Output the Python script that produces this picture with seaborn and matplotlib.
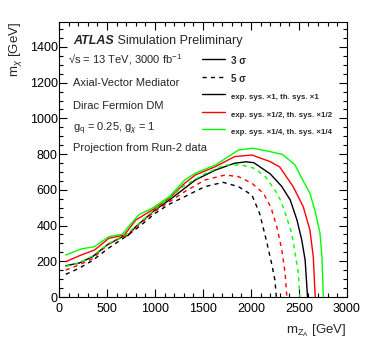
"""
Projected DM sensitivity contours (m_chi vs m_ZA), ATLAS-style.
"""
import numpy as np
import pandas as pd
import matplotlib
matplotlib.use('Agg')
import matplotlib.pyplot as plt
from matplotlib.lines import Line2D
from matplotlib.ticker import MultipleLocator
import seaborn as sns

# 3 sigma, exp. sys. x1, th. sys. x1
x_3s_1 = [70, 210, 350, 500, 660, 720, 800, 1000, 1150, 1310, 1420, 1630, 1830, 1950, 2030,
          2200, 2320, 2410, 2480, 2530, 2565, 2590]
y_3s_1 = [175, 190, 226, 291, 338, 345, 394, 487, 543, 609, 655, 711, 749, 757, 752,
          690, 620, 543, 431, 319, 207, 0]
# 5 sigma, x1
x_5s_1 = [70, 210, 350, 520, 700, 850, 1000, 1150, 1310, 1520, 1710, 1870, 2010, 2090, 2160,
          2215, 2250, 2265]
y_5s_1 = [127, 161, 205, 275, 340, 400, 468, 520, 562, 618, 642, 618, 571, 469, 319,
          189, 95, 0]
# 3 sigma, x1/2
x_3s_2 = [70, 230, 370, 520, 680, 800, 1000, 1150, 1310, 1420, 1630, 1830, 2010, 2200, 2300,
          2440, 2545, 2615, 2650, 2670]
y_3s_2 = [198, 235, 263, 329, 347, 431, 497, 553, 637, 683, 730, 786, 795, 758, 728,
          618, 506, 375, 226, 0]
# 5 sigma, x1/2
x_5s_2 = [70, 210, 350, 520, 700, 1000, 1310, 1520, 1730, 1870, 2010, 2130, 2210, 2270, 2320,
          2355, 2375]
y_5s_2 = [151, 180, 215, 300, 345, 480, 590, 655, 683, 674, 637, 581, 500, 394, 270,
          140, 0]
# 3 sigma, x1/4
x_3s_4 = [70, 230, 370, 520, 660, 710, 830, 970, 1150, 1310, 1420, 1630, 1870, 2020, 2200,
          2330, 2460, 2530, 2615, 2670, 2720, 2740, 2755]
y_3s_4 = [235, 269, 282, 338, 351, 385, 460, 497, 562, 655, 693, 739, 823, 833, 814,
          798, 739, 665, 581, 478, 357, 226, 0]
# 5 sigma, x1/4
x_5s_4 = [70, 210, 350, 520, 700, 1000, 1310, 1520, 1730, 1900, 2040, 2150, 2250, 2310, 2370,
          2425, 2460, 2495, 2510]
y_5s_4 = [172, 190, 230, 300, 350, 490, 625, 690, 739, 739, 720, 674, 599, 540, 450,
          357, 245, 133, 0]

scenario_labels = ['exp. sys. \u00d71, th. sys. \u00d71',
                   'exp. sys. \u00d71/2, th. sys. \u00d71/2',
                   'exp. sys. \u00d71/4, th. sys. \u00d71/4']
scenario_colors = ['#000000', '#ff0000', '#00ff00']


def build_frame():
    curves = [
        (x_3s_1, y_3s_1, scenario_labels[0], '3s'),
        (x_5s_1, y_5s_1, scenario_labels[0], '5s'),
        (x_3s_2, y_3s_2, scenario_labels[1], '3s'),
        (x_5s_2, y_5s_2, scenario_labels[1], '5s'),
        (x_3s_4, y_3s_4, scenario_labels[2], '3s'),
        (x_5s_4, y_5s_4, scenario_labels[2], '5s'),
    ]
    rows = []
    for xs, ys, scen, sig in curves:
        for i, (x, y) in enumerate(zip(xs, ys)):
            rows.append({'mZA': x, 'mchi': y, 'scenario': scen, 'signif': sig, 'order': i})
    return pd.DataFrame(rows)


sns.set_style("ticks")
plt.rcParams['font.family'] = ['Liberation Sans', 'DejaVu Sans']
plt.rcParams['mathtext.fontset'] = 'custom'
plt.rcParams['mathtext.rm'] = 'Liberation Sans'
plt.rcParams['mathtext.it'] = 'Liberation Sans:italic'
plt.rcParams['mathtext.bf'] = 'Liberation Sans:bold'

df = build_frame()

fig = plt.figure(figsize=(3.69, 3.54), dpi=100)
ax = fig.add_axes([0.160, 0.161, 0.780, 0.777])

for (scen, sig), sub in df.groupby(['scenario', 'signif'], sort=False):
    color = scenario_colors[scenario_labels.index(scen)]
    sns.lineplot(data=sub, x='mZA', y='mchi', sort=False, estimator=None, ax=ax,
                 color=color, linewidth=1.0,
                 linestyle='-' if sig == '3s' else (0, (3, 3)), legend=False)

ax.set_xlim(0, 3000)
ax.set_ylim(0, 1540)
ax.xaxis.set_major_locator(MultipleLocator(500))
ax.xaxis.set_minor_locator(MultipleLocator(100))
ax.yaxis.set_major_locator(MultipleLocator(200))
ax.yaxis.set_minor_locator(MultipleLocator(50))
ax.tick_params(which='both', direction='in', top=True, right=True, width=0.8,
               labelsize=9, colors='black')
ax.tick_params(which='major', length=6)
ax.tick_params(which='minor', length=3)
ax.tick_params(axis='x', pad=4)
ax.tick_params(axis='y', pad=1)
for s in ax.spines.values():
    s.set_linewidth(0.8)
    s.set_color('black')

ax.set_xlabel(r'm$_{\mathregular{Z_A}}$ [GeV]', fontsize=9.5, loc='right', labelpad=6)
ax.set_ylabel(r'm$_{\chi}$ [GeV]', fontsize=9.5, loc='top', labelpad=4)

# ATLAS label and info text
atl = ax.text(0.048, 0.932, 'ATLAS', transform=ax.transAxes, fontsize=9,
              fontweight='bold', fontstyle='italic', va='center', ha='left')
ax.annotate(' Simulation Preliminary', xy=(1, 0.5), xycoords=atl, va='center',
            ha='left', fontsize=9)
info = ['\u221as = 13 TeV, 3000 fb$^{-1}$',
        'Axial-Vector Mediator',
        'Dirac Fermion DM',
        r'g$_{\mathregular{q}}$ = 0.25, g$_{\chi}$ = 1',
        'Projection from Run-2 data']
info_y = [0.862, 0.778, 0.695, 0.612, 0.542]
for t, yy in zip(info, info_y):
    ax.text(0.048 if not t.startswith('\u221a') else 0.03, yy, t, transform=ax.transAxes,
            fontsize=8, va='center', ha='left')

handles = [Line2D([], [], color='black', lw=1.0, ls='-'),
           Line2D([], [], color='black', lw=1.0, ls=(0, (3, 3))),
           Line2D([], [], color=scenario_colors[0], lw=1.0),
           Line2D([], [], color=scenario_colors[1], lw=1.0),
           Line2D([], [], color=scenario_colors[2], lw=1.0)]
labels = ['3 \u03c3', '5 \u03c3'] + scenario_labels
leg = ax.legend(handles, labels, loc='upper left', bbox_to_anchor=(0.497, 0.882),
                frameon=False, handlelength=1.65, handletextpad=0.45, labelspacing=0.42,
                borderpad=0, borderaxespad=0)
for i, txt in enumerate(leg.get_texts()):
    txt.set_fontweight('bold')
    txt.set_fontsize(7 if i < 2 else 5.7)

fig.savefig('out.png', dpi=100)
plt.close(fig)
